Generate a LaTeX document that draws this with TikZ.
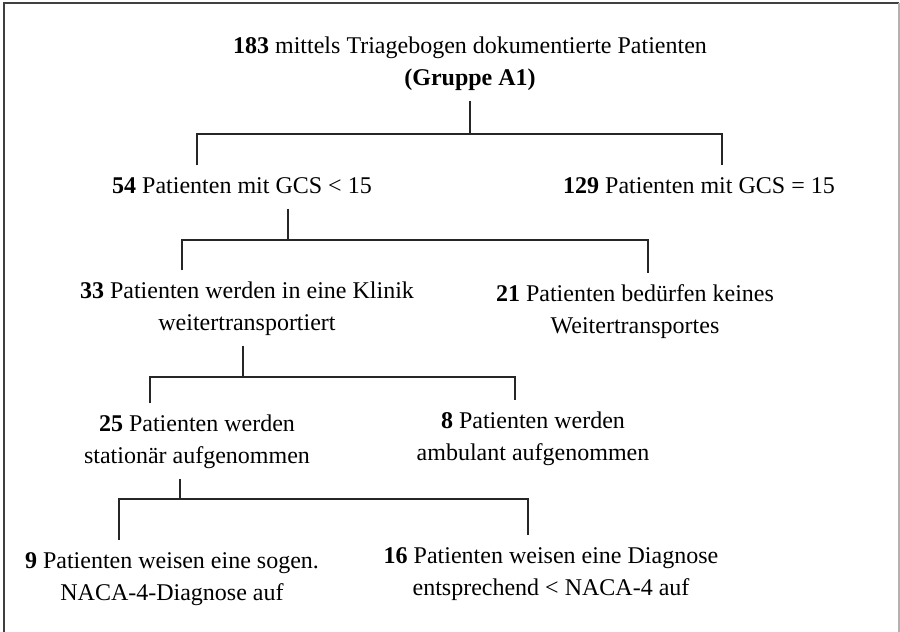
\documentclass[tikz,border=0pt]{standalone}
\usepackage{fontspec}
\setmainfont{Liberation Serif}
\begin{document}
\begin{tikzpicture}[line cap=butt,line join=miter,x=0.75pt,y=-0.75pt,
  lbl/.style={anchor=north,align=center,inner sep=4pt,font=\fontsize{18}{24}\selectfont},
  conn/.style={line width=0.9pt,black!85}]
\useasboundingbox (0,0) rectangle (900,632);
% frame, cut off at the bottom
\draw [line width=1.3pt,black!75] (4,632)-- (4,3)-- (899,3);
\draw [line width=1.0pt,black!30] (899,3)-- (899,632);
% labels
\node[lbl] (g183) at (470,25.3) {\strut\textbf{183} mittels Triagebogen dokumentierte Patienten\\\textbf{(Gruppe A1)}\strut};
\node[lbl] (g54) at (242,165.3) {\strut\textbf{54} Patienten mit GCS < 15\strut};
\node[lbl] (g129) at (699,165.3) {\strut\textbf{129} Patienten mit GCS = 15\strut};
\node[lbl] (g33) at (247,270.3) {\strut\textbf{33} Patienten werden in eine Klinik\\weitertransportiert\strut};
\node[lbl] (g21) at (635,273.3) {\strut\textbf{21} Patienten bedürfen keines\\Weitertransportes\strut};
\node[lbl] (g25) at (197,403.3) {\strut\textbf{25} Patienten werden\\stationär aufgenommen\strut};
\node[lbl] (g8) at (533,400.3) {\strut\textbf{8} Patienten werden\\ambulant aufgenommen\strut};
\node[lbl] (g9) at (172,540.3) {\strut\textbf{9} Patienten weisen eine sogen.\\NACA-4-Diagnose auf\strut};
\node[lbl] (g16) at (551,535.3) {\strut\textbf{16} Patienten weisen eine Diagnose\\entsprechend < NACA-4 auf\strut};
% branch points
\coordinate (jA) at (470,134);
\coordinate (lA) at (197,134);
\coordinate (rA) at (722,134);
\coordinate (jB) at (288,240);
\coordinate (lB) at (182,240);
\coordinate (rB) at (648,240);
\coordinate (jC) at (243,377);
\coordinate (lC) at (150,377);
\coordinate (rC) at (515,377);
\coordinate (jD) at (180,499);
\coordinate (lD) at (119,499);
\coordinate (rD) at (528,499);
% connectors
\draw [conn] (g183.south -| jA)-- (jA);
\draw [conn] (g54.north -| lA)-- (lA)-- (rA)-- (g129.north -| rA);
\draw [conn] (g54.south -| jB)-- (jB);
\draw [conn] (g33.north -| lB)-- (lB)-- (rB)-- (g21.north -| rB);
\draw [conn] (g33.south -| jC)-- (jC);
\draw [conn] (g25.north -| lC)-- (lC)-- (rC)-- (g8.north -| rC);
\draw [conn] (g25.south -| jD)-- (jD);
\draw [conn] (g9.north -| lD)-- (lD)-- (rD)-- (g16.north -| rD);
\end{tikzpicture}
\end{document}
